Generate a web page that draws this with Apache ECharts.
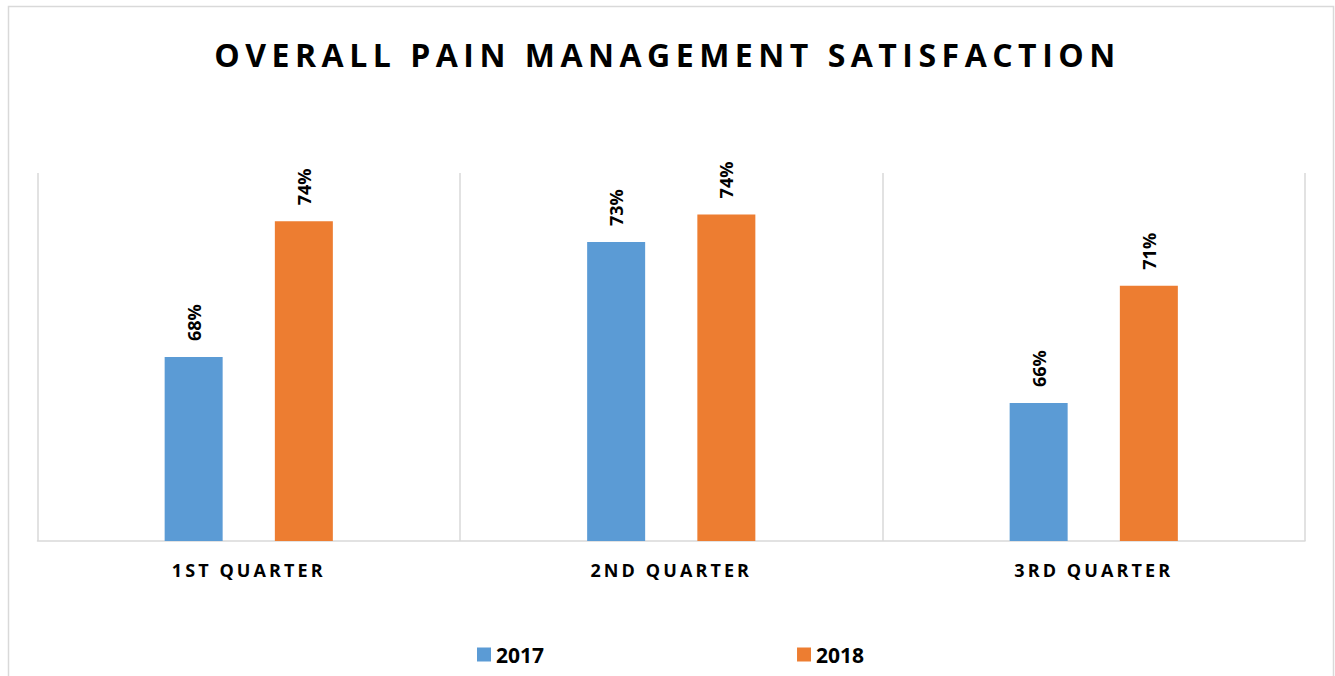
<!DOCTYPE html>
<html>
<head>
<meta charset="utf-8">
<script src="https://cdn.jsdelivr.net/npm/echarts@6/dist/echarts.min.js"></script>
<style>
  html, body { margin: 0; padding: 0; background: #ffffff; }
  #chart { width: 1335px; height: 676px; }
</style>
</head>
<body>
<div id="chart"></div>
<script>
// ---- data ----
const titleText = 'OVERALL PAIN MANAGEMENT SATISFACTION';
const categories = ['1ST QUARTER', '2ND QUARTER', '3RD QUARTER'];
const seriesNames = ['2017', '2018'];
const values2017 = [68.0, 73.0, 66.0];
const values2018 = [73.9, 74.2, 71.1];
const yMin = 60;
const yMax = 76;

const FONT = '"Open Sans", "Noto Sans", sans-serif';
const colors = ['#5B9BD5', '#ED7D31'];

const chart = echarts.init(document.getElementById('chart'), null, { renderer: 'svg' });

function valueLabel() {
  return {
    show: true,
    position: 'top',
    rotate: 90,
    align: 'left',
    verticalAlign: 'middle',
    distance: 16,
    fontFamily: FONT,
    fontWeight: 'bold',
    fontSize: 18,
    color: '#000000',
    formatter: p => Math.round(p.value) + '%'
  };
}

const option = {
  animation: false,
  backgroundColor: '#ffffff',
  color: colors,
  title: {
    text: titleText,
    left: 'center',
    top: 38,
    padding: 0,
    textStyle: {
      fontFamily: FONT,
      fontWeight: 'bold',
      fontSize: 32,
      color: '#000000'
    }
  },
  graphic: [{
    type: 'rect',
    shape: { x: 8.5, y: 6.5, width: 1325, height: 690 },
    style: { fill: 'none', stroke: '#d9d9d9', lineWidth: 1.5 },
    silent: true,
    z: -1
  }],
  legend: {
    data: seriesNames,
    left: 477,
    top: 644,
    padding: 0,
    itemWidth: 14,
    itemHeight: 14,
    itemGap: 253,
    icon: 'rect',
    textStyle: {
      fontFamily: FONT,
      fontWeight: 'bold',
      fontSize: 21,
      color: '#000000'
    }
  },
  grid: {
    left: 37.5,
    right: 30,
    top: 173,
    bottom: 135,
    containLabel: false
  },
  xAxis: {
    type: 'category',
    data: categories,
    boundaryGap: true,
    axisLine: { show: true, lineStyle: { color: '#d9d9d9', width: 1.5 } },
    axisTick: { show: false },
    splitLine: { show: true, lineStyle: { color: '#d9d9d9', width: 1.5 } },
    axisLabel: {
      margin: 20,
      fontFamily: FONT,
      fontWeight: 'bold',
      fontSize: 18,
      color: '#000000'
    }
  },
  yAxis: {
    type: 'value',
    min: yMin,
    max: yMax,
    show: false,
    splitLine: { show: false }
  },
  series: [
    {
      name: seriesNames[0],
      type: 'bar',
      data: values2017,
      barWidth: 58,
      barGap: '90%',
      itemStyle: { color: colors[0] },
      label: valueLabel()
    },
    {
      name: seriesNames[1],
      type: 'bar',
      data: values2018,
      barWidth: 58,
      barGap: '90%',
      itemStyle: { color: colors[1] },
      label: valueLabel()
    }
  ]
};

chart.setOption(option);

function applySpacing() {
  const texts = document.querySelectorAll('#chart svg text');
  texts.forEach(t => {
    const s = t.textContent;
    if (s === titleText) {
      t.setAttribute('letter-spacing', '5.5px');
    } else if (categories.indexOf(s) >= 0) {
      t.setAttribute('letter-spacing', '3.1px');
    }
  });
}
applySpacing();
chart.on('finished', applySpacing);
setTimeout(applySpacing, 50);
setTimeout(applySpacing, 300);
</script>
</body>
</html>
